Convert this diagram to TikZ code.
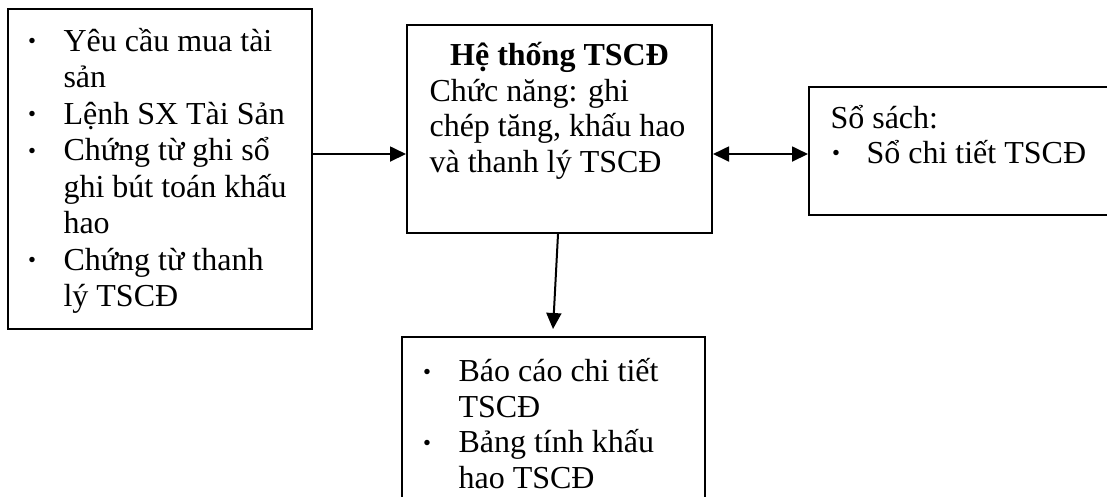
\documentclass[tikz,border=0pt]{standalone}
\usepackage{fontspec}
\setmainfont{Liberation Serif}
\usetikzlibrary{fit,arrows.meta}
\newcommand\smallbullet{\raisebox{0.8pt}{\fontsize{8.5}{9}\selectfont\textbullet}}
\begin{document}
\begin{tikzpicture}[x=0.375pt,y=-0.375pt,
  box/.style={draw,line width=0.75pt,inner sep=0pt},
  txt/.style={inner sep=0pt,anchor=base west,font=\fontsize{12}{14}\selectfont},
  bul/.style={inner sep=0pt,anchor=base,font=\fontsize{12}{14}\selectfont},
  arr/.style={line width=0.75pt,-{Triangle[length=6pt,width=5.6pt]}},
  darr/.style={line width=0.75pt,{Triangle[length=6pt,width=5.6pt]}-{Triangle[length=6pt,width=5.6pt]}}]
\useasboundingbox (0,0) rectangle (1107,496);

% boxes
\node[box,fit={(8,9) (312,329)}] (inbox) {};
\node[box,fit={(407,25) (712,233)}] (sys) {};
\node[box,fit={(809,87) (1115,215)}] (ledger) {};
\node[box,fit={(402,337) (705,510)}] (report) {};

% input documents
\node[bul] (ib1) at (32,51) {\smallbullet};
\node[txt] (i1) at (63,51) {Yêu cầu mua tài};
\node[txt] (i2) at (63,87.5) {sản};
\node[bul] (ib2) at (32,124) {\smallbullet};
\node[txt] (i3) at (63,124) {Lệnh SX Tài Sản};
\node[bul] (ib3) at (32,160.5) {\smallbullet};
\node[txt] (i4) at (63,160.5) {Chứng từ ghi sổ};
\node[txt] (i5) at (63,197) {ghi bút toán khấu};
\node[txt] (i6) at (63,233.5) {hao};
\node[bul] (ib4) at (32,270) {\smallbullet};
\node[txt] (i7) at (63,270) {Chứng từ thanh};
\node[txt] (i8) at (63,306.5) {lý TSCĐ};

% fixed-asset system
\node[txt,anchor=base] (s0) at (559.5,65) {\bfseries Hệ thống TSCĐ};
\node[txt] (s1) at (429,101) {Chức năng: ghi};
\node[txt] (s2) at (429,136.5) {chép tăng, khấu hao};
\node[txt] (s3) at (429,172) {và thanh lý TSCĐ};

% ledgers
\node[txt] (l0) at (830,128) {Sổ sách:};
\node[bul] (lb1) at (836,163) {\smallbullet};
\node[txt] (l1) at (866,163) {Sổ chi tiết TSCĐ};

% reports
\node[bul] (rb1) at (427,381.5) {\smallbullet};
\node[txt] (r1) at (458,381.5) {Báo cáo chi tiết};
\node[txt] (r2) at (458,417) {TSCĐ};
\node[bul] (rb2) at (427,452.5) {\smallbullet};
\node[txt] (r3) at (458,452.5) {Bảng tính khấu};
\node[txt] (r4) at (458,488) {hao TSCĐ};

% connectors
\coordinate (hy) at (0,154);
\coordinate (dn) at (553,329);
\draw[arr] (inbox.east |- hy) -- (sys.west |- hy);
\draw[darr] (sys.east |- hy) -- (ledger.west |- hy);
\draw[arr] ([xshift=-0.56pt]sys.south) -- (dn);
\end{tikzpicture}
\end{document}
